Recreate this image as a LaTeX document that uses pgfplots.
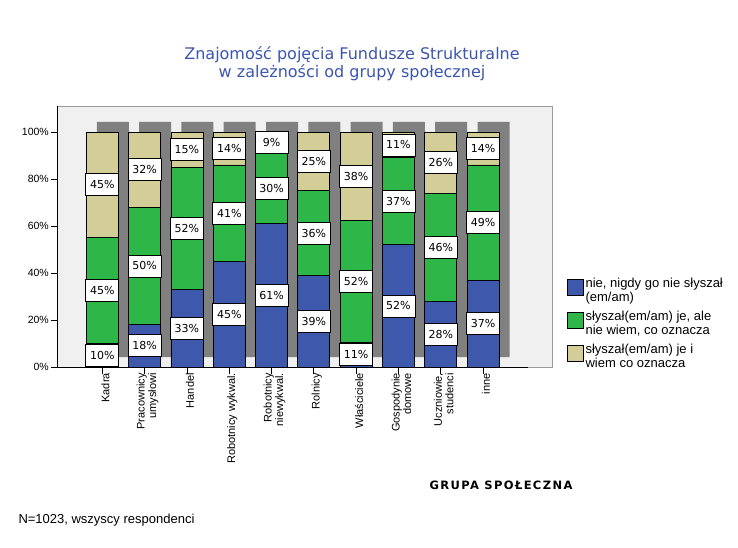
\documentclass[border=0pt]{standalone}
\usepackage{pgfplots}
\pgfplotsset{compat=1.18}
\usepackage{pgfplotstable}
\usepackage{fontspec}
\setmainfont{Liberation Sans}
\newfontfamily\djv{DejaVu Sans}
\newfontfamily\djvsp[LetterSpace=12]{DejaVu Sans}
\definecolor{cblue}{RGB}{62,88,172}
\definecolor{cgreen}{RGB}{46,182,72}
\definecolor{ctan}{RGB}{211,206,152}
\definecolor{cshadow}{RGB}{128,128,128}
\definecolor{cpanel}{RGB}{240,240,240}
\definecolor{ctitle}{RGB}{60,85,175}

\pgfplotstableread{
x b g t
0 10 45 45
1 18 50 32
2 33 52 15
3 45 41 14
4 61 30 9
5 39 36 25
6 10.6 51.6 37.8
7 52 37 11
8 28 46 26
9 37 49 14
}\datatable

% label positions (segment centres) and printed values
\pgfplotstableread{
x yc v
0 5 10
0 32.5 45
0 77.5 45
1 9 18
1 43 50
1 84 32
2 16.5 33
2 59 52
2 92.5 15
3 22.5 45
3 65.5 41
3 93 14
4 30.5 61
4 76 30
4 95.5 9
5 19.5 39
5 57 36
5 87.5 25
6 5.3 11
6 36.4 52
6 81.1 38
7 26 52
7 70.5 37
7 94.5 11
8 14 28
8 51 46
8 87 26
9 18.5 37
9 61.5 49
9 93 14
}\labeltable

\pgfplotstableread{
x off h
0 4.255 100
1 4.255 100
2 4.255 100
3 4.255 100
4 4.255 100
5 4.255 100
6 4.255 100
7 4.255 100
8 4.255 100
9 4.255 100
}\shadowtable

\begin{document}
\begin{tikzpicture}
\path[use as bounding box] (0,0) rectangle (738pt,547pt);
% background panel and 3D shadows
\begin{axis}[
  at={(57.5pt,180pt)}, anchor=south west,
  x=42.3pt, y=2.35pt,
  xmin=-1.06, xmax=10.65, ymin=0, ymax=111.06,
  axis background/.style={fill=cpanel},
  axis line style={draw=black!40, line width=0.8pt},
  ticks=none,
  ybar stacked, bar width=32pt,
]
\addplot[draw=none, fill=none, bar shift=10.5pt] table[x=x,y=off] {\shadowtable};
\addplot[draw=none, fill=cshadow, bar shift=10.5pt] table[x=x,y=h] {\shadowtable};
\end{axis}
% main stacked bars
\begin{axis}[
  at={(57.5pt,180pt)}, anchor=south west,
  x=42.3pt, y=2.35pt,
  xmin=-1.06, xmax=10.06, ymin=0, ymax=111.06,
  axis lines*=left,
  axis line style={black, line width=0.8pt},
  ybar stacked, bar width=32pt,
  xtick={0,...,9},
  xticklabels={Kadra,{Pracownicy\\umysłowi},Handel,{Robotnicy wykwal.},{Robotnicy\\niewykwal.},Rolnicy,Właściciele,{Gospodynie\\domowe},{Uczniowie,\\studenci},inne},
  xticklabel style={rotate=90, anchor=east, align=right, font=\fontsize{11}{11.5}\selectfont, inner sep=1pt, xshift=1.5pt, yshift=-3pt},
  ytick={0,20,...,100},
  yticklabel={\pgfmathprintnumber{\tick}\%},
  /pgf/number format/assume math mode=true,
  yticklabel style={font=\fontsize{10.5}{12}\selectfont, inner sep=2pt},
  tick align=outside, major tick length=6.5pt,
  tick style={black, line width=0.8pt},
  legend style={at={(1.0823,0.35)}, anchor=north west, draw=none, fill=none, inner sep=0pt, row sep=4pt, font=\fontsize{13}{14}\selectfont, cells={align=left}},
  legend cell align=left,
  legend image code/.code={\draw[#1, line width=0.8pt] (0pt,-5pt) rectangle (16pt,11pt);},
]
\addplot[fill=cblue, draw=black, line width=0.8pt] table[x=x,y=b] {\datatable};
\addplot[fill=cgreen, draw=black, line width=0.8pt] table[x=x,y=g] {\datatable};
\addplot[fill=ctan, draw=black, line width=0.8pt] table[x=x,y=t] {\datatable};
\legend{{nie, nigdy go nie słyszał\\(em/am)},{słyszał(em/am) je, ale\\nie wiem, co oznacza},{słyszał(em/am) je i\\wiem co oznacza}}
\end{axis}
% value labels
\begin{axis}[
  at={(57.5pt,180pt)}, anchor=south west,
  x=42.3pt, y=2.35pt,
  xmin=-1.06, xmax=10.06, ymin=0, ymax=111.06,
  hide axis, clip=false,
  /pgf/number format/assume math mode=true,
]
\addplot[only marks, mark=none, point meta=explicit,
  nodes near coords={\pgfmathprintnumber[fixed,precision=0,assume math mode=true]{\pgfplotspointmeta}\%},
  nodes near coords align=center,
  every node near coord/.style={font=\djv\fontsize{11}{12}\selectfont, fill=white, draw=black, line width=0.8pt, minimum width=33pt, minimum height=22pt, inner sep=0pt, anchor=center},
] table[x=x,y=yc,meta=v] {\labeltable};
\end{axis}
\node[align=center, text=ctitle, font=\djv\fontsize{16}{17.7}\selectfont] at (352pt,483pt) {Znajomość pojęcia Fundusze Strukturalne\\w zależności od grupy społecznej};
\node[font=\djvsp\bfseries\fontsize{11.5}{13}\selectfont] at (501pt,62pt) {GRUPA SPOŁECZNA};
\node[anchor=west, inner sep=0pt, font=\fontsize{13}{15}\selectfont] at (18.3pt,27pt) {N=1023, wszyscy respondenci};
\end{tikzpicture}
\end{document}
